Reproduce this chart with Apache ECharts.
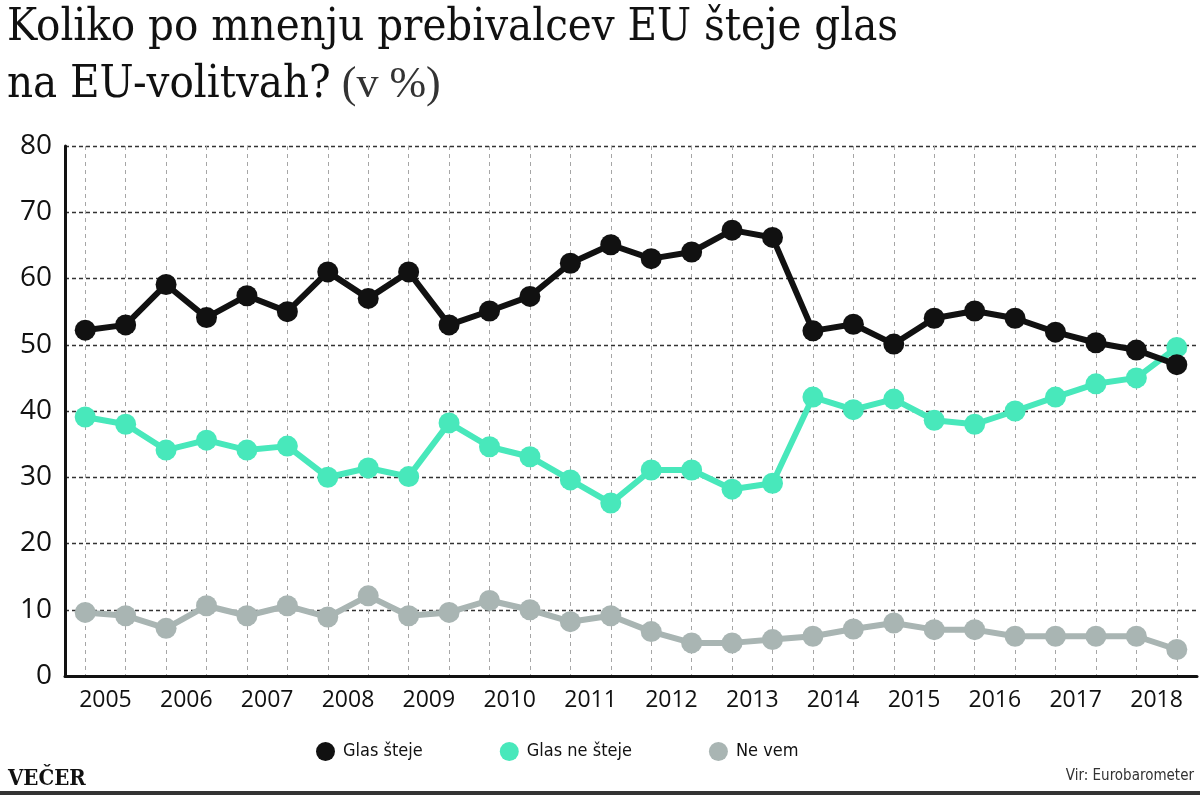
<!DOCTYPE html>
<html>
<head>
<meta charset="utf-8">
<script src="https://cdn.jsdelivr.net/npm/echarts@6/dist/echarts.min.js"></script>
<style>
html,body{margin:0;padding:0;background:#fff;}
#chart{width:1200px;height:795px;}
</style>
</head>
<body>
<div id="chart"></div>
<script>
// Years (two survey waves per year)
const years = ['2005','2006','2007','2008','2009','2010','2011','2012','2013','2014','2015','2016','2017','2018'];
const periods = years.flatMap(y => [y + '-1', y + '-2']);

const glasSteje = [52.2, 53, 59.1, 54.1, 57.4, 55, 61, 57, 61, 53, 55.1, 57.3, 62.3, 65.1, 63, 64, 67.3, 66.2, 52.1, 53.1, 50.1, 54, 55.1, 54, 51.9, 50.3, 49.2, 47];
const glasNeSteje = [39.1, 38, 34.1, 35.6, 34.1, 34.7, 30, 31.4, 30.1, 38.2, 34.6, 33.1, 29.6, 26.1, 31.1, 31.1, 28.2, 29.1, 42.1, 40.2, 41.8, 38.6, 38, 40, 42.1, 44.1, 45, 49.6];
const neVem = [9.6, 9.1, 7.2, 10.6, 9.1, 10.6, 8.9, 12.1, 9.1, 9.6, 11.4, 10, 8.2, 9.1, 6.7, 5, 5, 5.5, 6, 7.1, 8, 7, 7, 6, 6, 6, 6, 4];

const seriesNames = ['Glas šteje', 'Glas ne šteje', 'Ne vem'];
const colors = ['#111111', '#48e8bb', '#a9b5b3'];

const chart = echarts.init(document.getElementById('chart'), null, {renderer: 'canvas'});

const gridLeft = 65, gridRight = 3, gridTop = 146, gridBottom = 119;
const band = (1200 - gridLeft - gridRight) / periods.length;

function lineSeries(name, data, color, z) {
  return {
    name: name,
    type: 'line',
    data: data,
    xAxisIndex: 0,
    yAxisIndex: 0,
    symbol: 'circle',
    symbolSize: 21,
    z: z,
    lineStyle: {color: color, width: 6},
    itemStyle: {color: color},
    emphasis: {disabled: true},
    animation: false
  };
}

chart.setOption({
  animation: false,
  title: {
    left: 2,
    top: -5,
    text: '{a|Koliko po mnenju prebivalcev EU šteje glas}\n{a|na EU-volitvah?}{b| (v %)}',
    textStyle: {
      fontWeight: 'normal',
      rich: {
        a: {fontFamily: '"DejaVu Serif Condensed", "DejaVu Serif", serif', fontWeight: 'normal', fontSize: 45, color: '#111', lineHeight: 57},
        b: {fontFamily: '"Liberation Serif", serif', fontWeight: 'normal', fontSize: 44, color: '#333', lineHeight: 57}
      }
    }
  },
  legend: {
    data: seriesNames,
    left: 311,
    top: 737,
    icon: 'circle',
    itemWidth: 19,
    itemHeight: 19,
    itemGap: 77,
    textStyle: {fontFamily: '"Liberation Sans Narrow", "DejaVu Sans Condensed", sans-serif', fontSize: 18, color: '#111', padding: [0, 0, 0, 3]}
  },
  grid: [
    {left: gridLeft, right: gridRight, top: gridTop, bottom: gridBottom},
    {left: gridLeft + band / 2, right: gridRight + band / 2, top: gridTop, bottom: gridBottom}
  ],
  xAxis: [
    {
      type: 'category', gridIndex: 0, data: periods, boundaryGap: true,
      axisLine: {show: true, lineStyle: {color: '#111', width: 3}},
      axisTick: {show: false}, axisLabel: {show: false}, splitLine: {show: false}
    },
    {
      type: 'category', gridIndex: 0, data: years, boundaryGap: true, position: 'bottom',
      axisLine: {show: false}, axisTick: {show: false}, splitLine: {show: false},
      axisLabel: {fontFamily: '"Open Sans", sans-serif', fontSize: 23, color: '#111', margin: 13}
    },
    {
      type: 'value', gridIndex: 1, min: 0, max: periods.length - 1, interval: 1,
      axisLine: {show: false}, axisTick: {show: false}, axisLabel: {show: false},
      splitLine: {show: true, lineStyle: {color: '#a6a6a6', width: 1, type: [4, 4]}}
    }
  ],
  yAxis: [
    {
      type: 'value', gridIndex: 0, min: 0, max: 80, interval: 10,
      axisLine: {show: true, lineStyle: {color: '#111', width: 3}},
      axisTick: {show: false},
      axisLabel: {fontFamily: '"Open Sans", sans-serif', fontSize: 28, color: '#111', margin: 13},
      splitLine: {show: true, lineStyle: {color: '#333', width: 1.3, type: [4, 3]}}
    },
    {
      type: 'value', gridIndex: 1, min: 0, max: 80, show: false, splitLine: {show: false}
    }
  ],
  series: [
    lineSeries(seriesNames[2], neVem, colors[2], 3),
    lineSeries(seriesNames[1], glasNeSteje, colors[1], 4),
    lineSeries(seriesNames[0], glasSteje, colors[0], 5)
  ],
  graphic: [
    {type: 'text', left: 8, top: 768, style: {text: 'VEČER', font: 'bold 22px "DejaVu Serif Condensed", "DejaVu Serif", serif', fill: '#111'}},
    {type: 'text', right: 6, top: 769, style: {text: 'Vir: Eurobarometer', font: '15px "Liberation Sans Narrow", "DejaVu Sans Condensed", sans-serif', fill: '#333'}},
    {type: 'rect', left: 0, top: 791, shape: {width: 1200, height: 4}, style: {fill: '#333'}}
  ]
});
</script>
</body>
</html>
